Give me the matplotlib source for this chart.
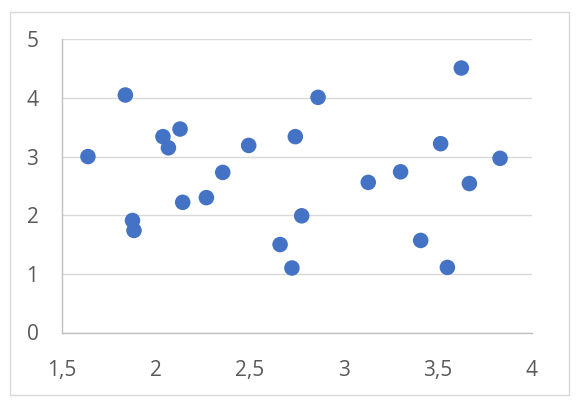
import matplotlib
matplotlib.use("Agg")
import matplotlib.pyplot as plt
from matplotlib.patches import Rectangle

x_values = [1.638, 1.837, 1.875, 1.883, 2.037, 2.066, 2.128, 2.142, 2.268, 2.355,
            2.493, 2.660, 2.723, 2.741, 2.775, 2.862, 3.129, 3.301, 3.408, 3.514,
            3.550, 3.624, 3.667, 3.830]
y_values = [3.00, 4.05, 1.91, 1.74, 3.34, 3.15, 3.47, 2.22, 2.30, 2.73,
            3.19, 1.50, 1.10, 3.34, 1.99, 4.01, 2.56, 2.74, 1.57, 3.22,
            1.11, 4.51, 2.54, 2.97]
x_ticks = [1.5, 2, 2.5, 3, 3.5, 4]
x_tick_labels = ["1,5", "2", "2,5", "3", "3,5", "4"]
y_ticks = [0, 1, 2, 3, 4, 5]
y_tick_labels = ["0", "1", "2", "3", "4", "5"]

W, H = 582, 409
fig = plt.figure(figsize=(W / 100, H / 100), dpi=100)
fig.patch.set_facecolor("white")
fig.patches.append(Rectangle((10 / W, 1 - 395 / H), (568.5 - 10) / W, (395 - 11.5) / H,
                             transform=fig.transFigure, fill=False,
                             edgecolor="#d9d9d9", linewidth=1.0))

ax = fig.add_axes([62 / W, 1 - 332.5 / H, (532 - 62) / W, (332.5 - 39.3) / H])
ax.scatter(x_values, y_values, s=125, color="#4472C4", edgecolors="none", zorder=3)
ax.set_xlim(1.5, 4)
ax.set_ylim(0, 5)
ax.set_xticks(x_ticks)
ax.set_xticklabels(x_tick_labels)
ax.set_yticks(y_ticks)
ax.set_yticklabels(y_tick_labels)
ax.grid(axis="y", color="#d9d9d9", linewidth=1.0, zorder=0)
ax.set_axisbelow(True)
for s in ["top", "right"]:
    ax.spines[s].set_visible(False)
for s in ["left", "bottom"]:
    ax.spines[s].set_color("#bfbfbf")
    ax.spines[s].set_linewidth(1.0)
ax.tick_params(length=0, labelsize=15, labelcolor="#595959")
ax.tick_params(axis="x", pad=20)
ax.tick_params(axis="y", pad=17)
for lab in ax.get_xticklabels() + ax.get_yticklabels():
    lab.set_fontfamily("Open Sans")

fig.savefig("out.png", dpi=100)
